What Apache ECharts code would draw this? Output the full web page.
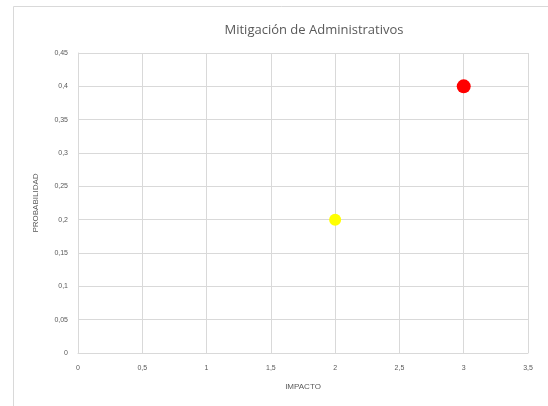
<!DOCTYPE html>
<html>
<head>
<meta charset="utf-8">
<script src="https://cdn.jsdelivr.net/npm/echarts@6/dist/echarts.min.js"></script>
<style>
  html, body { margin: 0; padding: 0; background: #fff; }
  #chart { width: 548px; height: 406px; }
</style>
</head>
<body>
<div id="chart"></div>
<script>
// datos
const impacto = [3, 2];
const probabilidad = [0.4, 0.2];
const colores = ['#ff0000', '#ffff00'];
const tamanos = [14, 12];

const fmt = v => String(Math.round(v * 100) / 100).replace('.', ',');

const chart = echarts.init(document.getElementById('chart'));

const puntos = impacto.map((x, i) => ({
    value: [x, probabilidad[i]],
    symbolSize: tamanos[i],
    itemStyle: { color: colores[i], opacity: 1 }
}));

const option = {
    animation: false,
    textStyle: { fontFamily: 'Liberation Sans' },
    graphic: [{
        type: 'rect',
        shape: { x: 13.5, y: 6.5, width: 700, height: 600 },
        style: { fill: 'none', stroke: '#d9d9d9', lineWidth: 1 },
        silent: true
    }],
    title: {
        text: 'Mitigación de Administrativos',
        left: 309,
        top: 19,
        textAlign: 'center',
        textStyle: { fontSize: 13, fontWeight: 'normal', color: '#595959', fontFamily: 'Open Sans' }
    },
    grid: { left: 78, right: 20, top: 53, bottom: 53 },
    xAxis: {
        type: 'value',
        min: 0, max: 3.5, interval: 0.5,
        name: 'IMPACTO',
        nameLocation: 'middle',
        nameGap: 30,
        nameTextStyle: { fontSize: 8, color: '#595959' },
        axisLine: { show: true, lineStyle: { color: '#d9d9d9' } },
        axisTick: { show: false },
        axisLabel: { fontSize: 7, color: '#595959', margin: 12, formatter: fmt },
        splitLine: { show: true, lineStyle: { color: '#d9d9d9', width: 1 } }
    },
    yAxis: {
        type: 'value',
        min: 0, max: 0.45, interval: 0.05,
        name: 'PROBABILIDAD',
        nameLocation: 'middle',
        nameGap: 38,
        nameTextStyle: { fontSize: 8, color: '#595959' },
        axisLine: { show: true, lineStyle: { color: '#d9d9d9' } },
        axisTick: { show: false },
        axisLabel: { fontSize: 7, color: '#595959', margin: 10, formatter: fmt },
        splitLine: { show: true, lineStyle: { color: '#d9d9d9', width: 1 } }
    },
    series: [{
        type: 'scatter',
        symbol: 'circle',
        data: puntos
    }]
};

chart.setOption(option);
</script>
</body>
</html>
